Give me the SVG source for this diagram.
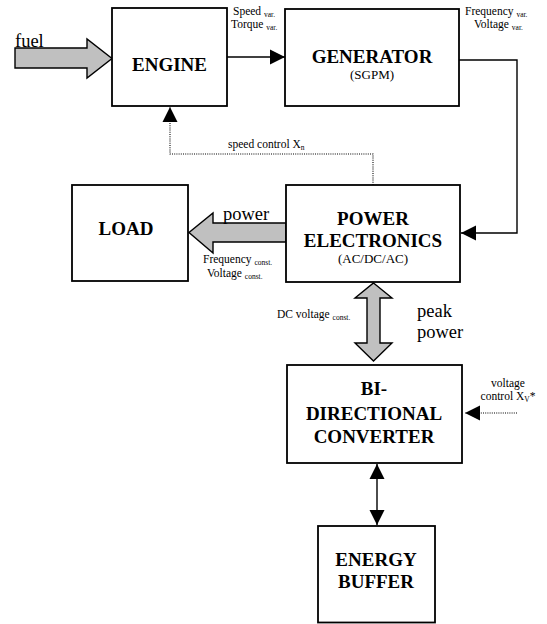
<svg xmlns="http://www.w3.org/2000/svg" width="547" height="624" viewBox="0 0 547 624">
<style>
  text { font-family: "Liberation Serif", "Times New Roman", Times, "DejaVu Serif", serif; fill: #000; }
  .box { fill: #ffffff; stroke: #000000; stroke-width: 1.8; }
  .title { font-weight: bold; font-size: 19px; text-anchor: middle; }
  .sub { font-size: 13px; text-anchor: middle; }
  .lbl { font-size: 11.5px; }
  .big { font-size: 18.5px; }
  .s { font-size: 7.5px; }
  .line { fill: none; stroke: #000; stroke-width: 1.4; }
  .dot { fill: none; stroke: #000; stroke-width: 1.1; stroke-dasharray: 1 1.2; }
  .fat { fill: #c0c0c0; stroke: #000; stroke-width: 1.4; stroke-linejoin: miter; }
</style>
<defs>
  <marker id="ah" markerUnits="userSpaceOnUse" markerWidth="16" markerHeight="16" refX="15" refY="8" orient="auto-start-reverse" viewBox="0 0 16 16">
    <path d="M0,0.5 L15,8 L0,15.5 Z" fill="#000" stroke="none"/>
  </marker>
</defs>

<g id="connectors">
  <line class="line" x1="227" y1="57" x2="285" y2="57" marker-end="url(#ah)"/>
  <polyline class="line" points="459,60 517,60 517,233 461,233" marker-end="url(#ah)"/>
  <polyline class="dot" points="373,185 373,154 170,154 170,107" marker-end="url(#ah)"/>
  <line class="dot" x1="517" y1="413" x2="465" y2="413" marker-end="url(#ah)"/>
  <line class="line" x1="377" y1="464" x2="377" y2="525" marker-start="url(#ah)" marker-end="url(#ah)"/>
  <polygon id="fuel-arrow" class="fat" points="15,48 87,48 87,39 112,58.5 87,78 87,68 15,68"/>
  <polygon id="power-arrow" class="fat" points="286,223 213,223 213,213 189,232.5 213,253 213,242 286,242"/>
  <polygon id="peak-arrow" class="fat" points="373.5,283 392,298 380,298 380,343 392,343 373.5,361 355,343 367,343 367,298 355,298"/>
</g>

<g id="labels">
  <text class="big" x="15" y="47">fuel</text>
  <text class="lbl" x="233" y="15">Speed <tspan class="s" dy="1.5">var.</tspan></text>
  <text class="lbl" x="231" y="28">Torque <tspan class="s" dy="1.5">var.</tspan></text>
  <text class="lbl" x="465" y="15">Frequency <tspan class="s" dy="1.5">var.</tspan></text>
  <text class="lbl" x="474" y="28">Voltage <tspan class="s" dy="1.5">var.</tspan></text>
  <text class="lbl" x="228" y="148">speed control X<tspan class="s" dy="2">n</tspan></text>
  <text class="big" x="223" y="220">power</text>
  <text class="lbl" x="203" y="263">Frequency <tspan class="s" dy="1.5">const.</tspan></text>
  <text class="lbl" x="207" y="277">Voltage <tspan class="s" dy="1.5">const.</tspan></text>
  <text class="lbl" x="277" y="318">DC voltage <tspan class="s" dy="1.5">const.</tspan></text>
  <text class="big" x="417" y="317">peak</text>
  <text class="big" x="417" y="338">power</text>
  <text class="lbl" x="508" y="387" text-anchor="middle">voltage</text>
  <text class="lbl" x="508" y="400" text-anchor="middle">control X<tspan class="s" dy="2">V</tspan><tspan dy="-2">*</tspan></text>
</g>

<g id="engine">
  <rect class="box" x="112" y="8" width="115" height="98"/>
  <text class="title" x="169.5" y="71">ENGINE</text>
</g>
<g id="generator">
  <rect class="box" x="285" y="9" width="174" height="97"/>
  <text class="title" x="372" y="63">GENERATOR</text>
  <text class="sub" x="372" y="79">(SGPM)</text>
</g>
<g id="load">
  <rect class="box" x="72" y="185" width="116" height="96"/>
  <text class="title" x="126" y="235">LOAD</text>
</g>
<g id="power-electronics">
  <rect class="box" x="286" y="185" width="174" height="97"/>
  <text class="title" x="373" y="225">POWER</text>
  <text class="title" x="373" y="247">ELECTRONICS</text>
  <text class="sub" x="373" y="263">(AC/DC/AC)</text>
</g>
<g id="bidirectional-converter">
  <rect class="box" x="287" y="365" width="175" height="98"/>
  <text class="title" x="374" y="395">BI-</text>
  <text class="title" x="374" y="420">DIRECTIONAL</text>
  <text class="title" x="374" y="443">CONVERTER</text>
</g>
<g id="energy-buffer">
  <rect class="box" x="318" y="526" width="117" height="96.5"/>
  <text class="title" x="376" y="566">ENERGY</text>
  <text class="title" x="376" y="588">BUFFER</text>
</g>
</svg>
